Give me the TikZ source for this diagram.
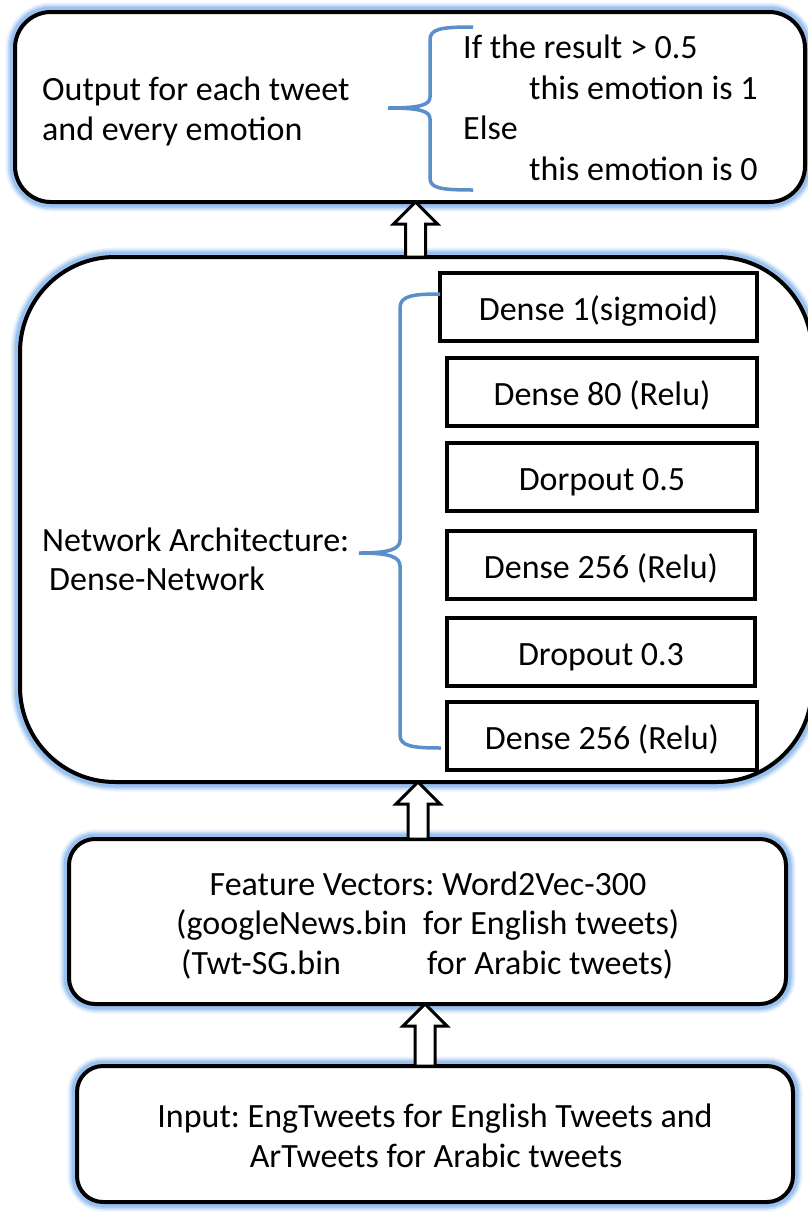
\documentclass[tikz,border=0pt]{standalone}
\usepackage{fontspec}
\setmainfont{Carlito}
\usetikzlibrary{calc}
\definecolor{glowblue}{RGB}{150,190,238}
\definecolor{bracecol}{RGB}{91,143,201}
\frenchspacing

% hollow block arrow from a base point up to a tip point
\newcommand\blockarrow[2]{%
  \draw[blockarrow] let \p1=(#1), \p2=(#2) in
    (\x1-10pt,\y1) -- (\x1-10pt,\y2-22pt) -- (\x1-22pt,\y2-22pt) -- (\x2,\y2)
    -- (\x1+22pt,\y2-22pt) -- (\x1+10pt,\y2-22pt) -- (\x1+10pt,\y1) -- cycle;}

\begin{document}
\begin{tikzpicture}[x=1pt,y=-1pt,
  txt/.style={font=\fontsize{34}{40}\selectfont, inner sep=0pt},
  panel/.style={draw=black, line width=4pt, fill=white, inner sep=0pt, outer sep=0pt,
    preaction={draw=glowblue, line width=19pt, opacity=0.2},
    preaction={draw=glowblue, line width=15pt, opacity=0.45},
    preaction={draw=glowblue, line width=11pt, opacity=0.9}},
  layerbox/.style={draw=black, line width=3.5pt, fill=white, inner sep=0pt, outer sep=0pt,
    minimum height=68pt, text height=27pt, text depth=0pt,
    font=\fontsize{34}{40}\selectfont},
  brace/.style={draw=bracecol, line width=3.5pt},
  blockarrow/.style={draw=black, line width=3pt, fill=white, line join=miter}
]
\useasboundingbox (0,0) rectangle (807,1213);

% panels
\node[panel, rounded corners=36pt, minimum width=790pt, minimum height=190pt] (out) at (410,107) {};
\node[panel, rounded corners=95pt, minimum width=792pt, minimum height=525pt] (net) at (416,519.5) {};
\node[panel, rounded corners=26pt, minimum width=717pt, minimum height=165pt] (feat) at (427.5,921.5) {};
\node[panel, rounded corners=26pt, minimum width=716pt, minimum height=136pt] (inp) at (435,1134) {};

% output panel text
\node[txt, anchor=base west] (o1) at (42,100) {Output for each tweet};
\node[txt, anchor=base west] (o2) at (42,140) {and every emotion};
\node[txt, anchor=base west] (r1) at (463,58) {If the result > 0.5};
\node[txt, anchor=base west] (r2) at (529,99) {this emotion is 1};
\node[txt, anchor=base west] (r3) at (463,139) {Else};
\node[txt, anchor=base west] (r4) at (529,180) {this emotion is 0};
\draw[brace] (473,27) .. controls (440,27) and (430,29) .. (430,40) -- (430,97)
  .. controls (430,105) and (420,108) .. (388,108)
  .. controls (420,108) and (430,111) .. (430,119) -- (430,178)
  .. controls (430,188) and (440,190) .. (473,190);

% network layers
\node[layerbox, minimum width=317pt] (l1) at (598.5,307) {Dense 1(sigmoid)};
\node[layerbox, minimum width=310pt] (l2) at (602,392) {Dense 80 (Relu)};
\node[layerbox, minimum width=310pt] (l3) at (602,477) {Dorpout 0.5};
\node[layerbox, minimum width=308pt] (l4) at (601,565) {Dense 256 (Relu)};
\node[layerbox, minimum width=308pt] (l5) at (601,652) {Dropout 0.3};
\node[layerbox, minimum width=310pt] (l6) at (602,736) {Dense 256 (Relu)};
\node[txt, anchor=base west] (n1) at (42,551) {Network Architecture:};
\node[txt, anchor=base west] (n2) at (49,590) {Dense-Network};
\draw[brace] (440,294) .. controls (412,294) and (400,296) .. (400,308) -- (400,540)
  .. controls (400,549) and (390,553) .. (359,553)
  .. controls (390,553) and (400,557) .. (400,566) -- (400,735)
  .. controls (400,746) and (412,748) .. (441,748);

% feature panel text
\node[txt, anchor=base] (f1) at (428,895) {Feature Vectors: Word2Vec-300};
\node[txt, anchor=base west] (f2a) at (176,934) {(googleNews.bin};
\node[txt, anchor=base west] (f2b) at (423,934) {for English tweets)};
\node[txt, anchor=base west] (f3a) at (181,974) {(Twt-SG.bin};
\node[txt, anchor=base west] (f3b) at (427,974) {for Arabic tweets)};

% input panel text
\node[txt, anchor=base] (i1) at (435,1127) {Input: EngTweets for English Tweets and};
\node[txt, anchor=base] (i2) at (436,1167) {ArTweets for Arabic tweets};

% flow arrows
\coordinate (ax1) at (415.5,0);
\coordinate (ax2) at (418,0);
\coordinate (ax3) at (425,0);
\blockarrow{ax1 |- net.north}{ax1 |- out.south}
\blockarrow{ax2 |- feat.north}{ax2 |- net.south}
\blockarrow{ax3 |- inp.north}{ax3 |- feat.south}
\end{tikzpicture}
\end{document}
